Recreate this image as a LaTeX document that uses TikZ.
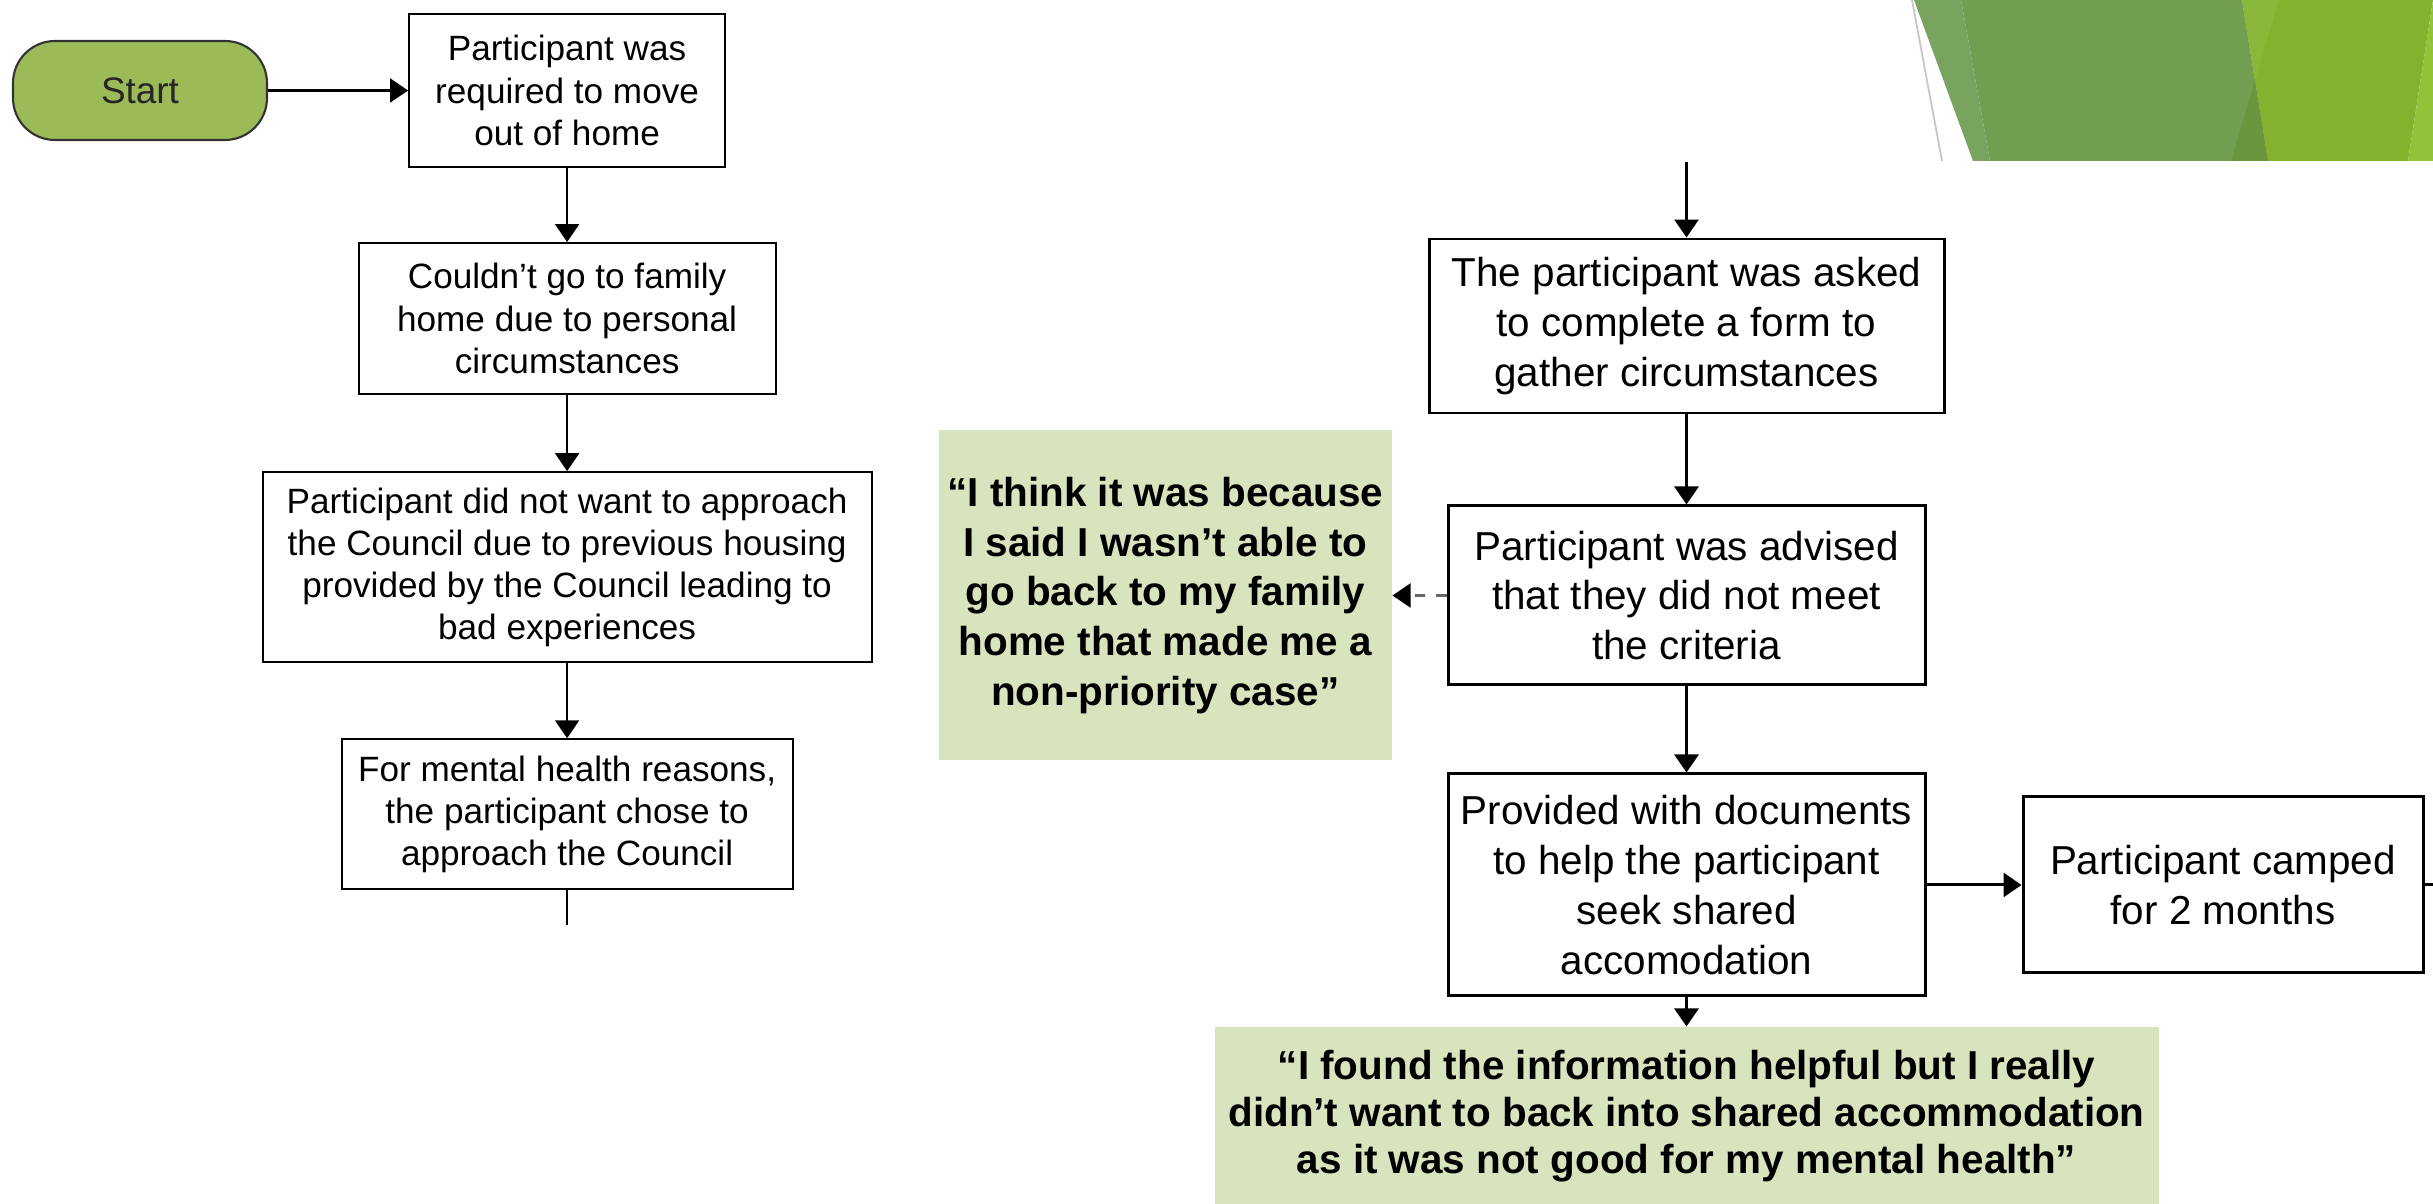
\documentclass[tikz,border=0pt]{standalone}
\usepackage{fontspec}
\setmainfont{Liberation Sans}
\usetikzlibrary{arrows.meta, positioning, calc}
\definecolor{startgreen}{HTML}{9BBB59}
\definecolor{quotegreen}{HTML}{D7E4BD}
\definecolor{decolight}{HTML}{78A460}
\definecolor{decomid}{HTML}{729E52}
\definecolor{decodark}{HTML}{6A963D}
\definecolor{decobright}{HTML}{84B22F}
\definecolor{decopale}{HTML}{89B739}
\definecolor{decoedge}{HTML}{93C23A}

\begin{document}
\begin{tikzpicture}[
    leftbox/.style={draw, line width=0.6pt, inner sep=0pt, align=center, font=\fontsize{10}{12}\selectfont},
    rightbox/.style={draw, line width=0.85pt, inner sep=0pt, align=center, font=\fontsize{11.5}{14.2}\selectfont},
    quotebox/.style={fill=quotegreen, inner sep=0pt, align=center, font=\fontsize{11.5}{14.2}\selectfont\bfseries},
    flow/.style={-{Triangle[width=2.4mm, length=1.8mm]}, line width=0.6pt},
  ]
          \useasboundingbox (0,0) rectangle (243.3mm,-120.4mm);

          \fill[decolight] (191.4mm,0) -- (197.3mm,-16.1mm) -- (199.0mm,-16.1mm) -- (196.1mm,0) -- cycle;
          \fill[decomid] (196.1mm,0) -- (199.0mm,-16.1mm) -- (226.8mm,-16.1mm) -- (224.2mm,0) -- cycle;
          \fill[decobright] (224.2mm,0) -- (226.8mm,-16.1mm) -- (240.8mm,-16.1mm) -- (243.3mm,0) -- cycle;
          \fill[decoedge] (243.3mm,0) -- (240.8mm,-16.1mm) -- (243.3mm,-16.1mm) -- cycle;
          \fill[decodark] (225.5mm,-8.05mm) -- (223.1mm,-16.1mm) -- (226.8mm,-16.1mm) -- cycle;
          \fill[decopale] (224.2mm,0) -- (227.9mm,0) -- (225.5mm,-8.05mm) -- cycle;
          \draw[gray!45, line width=0.5pt] (191.2mm,0) -- (194.2mm,-16.1mm);

          \node[draw=black!80, fill=startgreen, rounded corners=4.2mm, line width=0.6pt, minimum width=25.4mm, minimum height=9.9mm, inner sep=0pt, font=\fontsize{10.5}{12}\selectfont, text=black!85] (start) at (14mm,-9.05mm) {Start};
          \node[leftbox, minimum width=31.6mm, minimum height=15.3mm, right=14mm of start] (moveout) {Participant was\\required to move\\out of home};
          \node[leftbox, minimum width=41.7mm, minimum height=15.1mm, below=7.4mm of moveout] (family) {Couldn’t go to family\\home due to personal\\circumstances};
          \node[leftbox, minimum width=60.9mm, minimum height=19mm, below=7.6mm of family] (previous) {Participant did not want to approach\\the Council due to previous housing\\provided by the Council leading to\\bad experiences};
          \node[leftbox, minimum width=45.1mm, minimum height=15mm, below=7.5mm of previous] (council) {For mental health reasons,\\the participant chose to\\approach the Council};
          \coordinate[below=3.5mm of council] (councilout);

          \draw[flow] (start) -- (moveout);
          \draw[flow] (moveout) -- (family);
          \draw[flow] (family) -- (previous);
          \draw[flow] (previous) -- (council);
          \draw[line width=0.6pt] (council.south) -- (councilout);

          \node[rightbox, minimum width=51.5mm, minimum height=17.4mm] (form) at (168.65mm,-32.6mm) {The participant was asked\\to complete a form to\\gather circumstances};
          \coordinate[above=7.6mm of form] (formtop);
          \node[rightbox, minimum width=47.7mm, minimum height=17.9mm, below=9mm of form] (advised) {Participant was advised\\that they did not meet\\the criteria};
          \node[rightbox, minimum width=47.7mm, minimum height=22.2mm, below=8.6mm of advised] (documents) {Provided with documents\\to help the participant\\seek shared\\accomodation};
          \node[rightbox, minimum width=40mm, minimum height=17.6mm, right=9.5mm of documents] (camped) {Participant camped\\for 2 months};
          \coordinate[right=1.5mm of camped] (campedout);
          \node[quotebox, minimum width=45.3mm, minimum height=33mm, left=5.4mm of advised] (priority) {“I think it was because\\I said I wasn’t able to\\go back to my family\\home that made me a\\non-priority case”};
          \node[quotebox, minimum width=94.4mm, minimum height=17.8mm, below=2.9mm of documents, font=\fontsize{11.5}{13.4}\selectfont\bfseries] (helpful) {“I found the information helpful but I really\\didn’t want to back into shared accommodation\\as it was not good for my mental health”};

          \draw[flow, line width=0.85pt] (formtop) -- (form);
          \draw[flow, line width=0.85pt] (form) -- (advised);
          \draw[flow, line width=0.85pt] (advised) -- (documents);
          \draw[flow, line width=0.85pt] (documents) -- (camped);
          \draw[flow, line width=0.85pt] (documents) -- (helpful);
          \draw[line width=0.85pt] (camped.east) -- (campedout);
          \draw[-{Triangle[width=2.4mm, length=1.8mm, black]}, black!60, dashed, line width=0.6pt] (advised) -- (priority);
        \end{tikzpicture}
\end{document}
